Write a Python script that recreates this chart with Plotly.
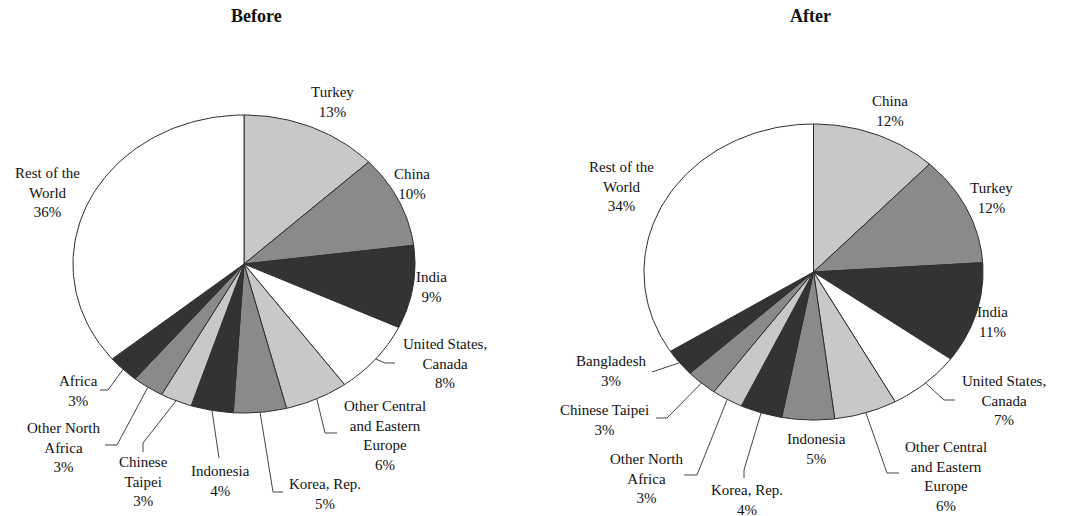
import numpy as np
import plotly.graph_objects as go

# ---- data -------------------------------------------------------------
before_labels = ["Turkey", "China", "India", "United States,<br>Canada",
                 "Other Central<br>and Eastern<br>Europe", "Korea, Rep.", "Indonesia",
                 "Chinese<br>Taipei", "Other North<br>Africa", "Africa",
                 "Rest of the<br>World"]
before_values = [13, 10, 9, 8, 6, 5, 4, 3, 3, 3, 36]

after_labels = ["China", "Turkey", "India", "United States,<br>Canada",
                "Other Central<br>and Eastern<br>Europe", "Indonesia", "Korea, Rep.",
                "Other North<br>Africa", "Chinese Taipei", "Bangladesh",
                "Rest of the<br>World"]
after_values = [12, 12, 11, 7, 6, 5, 4, 3, 3, 3, 34]

titles = ["Before", "After"]

# ---- styling ----------------------------------------------------------
LIGHT, MID, DARK, WHITE = "#c8c8c8", "#8a8a8a", "#333333", "#ffffff"
slice_colors = [LIGHT, MID, DARK, WHITE, LIGHT, MID, DARK, LIGHT, MID, DARK, WHITE]
FONT = "Liberation Serif"
W, H = 1068, 516

# pie geometry in pixel space: centre x, centre y, radius x, radius y
pies = [
    dict(cx=244.0, cy=264.0, rx=171.0, ry=149.0, title_x=256),
    dict(cx=813.5, cy=272.0, rx=169.5, ry=148.0, title_x=810),
]

# label block centres (pixels) and leader-line bends for each slice
before_text_pos = [(332, 102), (412, 184), (431, 287), (445, 363), (385, 435),
                   (325, 494), (220, 481), (143, 481), (63, 447), (78, 391),
                   (47, 192)]
before_leaders = {3: [(385, 363), (395, 363)],
                  4: [(325, 433), (337, 433)],
                  5: [(273, 492), (283, 492)],
                  6: [(219, 458)],
                  7: [(143, 443), (143, 452)],
                  8: [(117, 445), (105, 445)],
                  9: [(108, 390), (100, 390)]}

after_text_pos = [(890, 111), (991, 198), (992, 322), (1004, 400), (946, 476),
                  (816, 449), (747, 500), (646, 478), (604, 420), (611, 371),
                  (621, 186)]
after_leaders = {3: [(944, 400), (955, 400)],
                 4: [(887, 473), (899, 473)],
                 6: [(744, 470), (744, 478)],
                 7: [(697, 475), (684, 475)],
                 8: [(667, 418), (656, 418)],
                 9: [(652, 372)]}

fig = go.Figure()


def angle_at(share):
    """Clockwise from 12 o'clock, share in percent -> radians."""
    return np.deg2rad(90.0 - share * 3.6)


def add_pie(geom, labels, values, text_pos, leaders):
    total = float(sum(values))
    cum = 0.0
    annotations = []
    for i, (lab, val) in enumerate(zip(labels, values)):
        share0 = cum / total * 100
        share1 = (cum + val) / total * 100
        cum += val
        n = max(6, int(val * 3))
        ang = np.linspace(angle_at(share0), angle_at(share1), n)
        xs = np.concatenate([[geom["cx"]], geom["cx"] + geom["rx"] * np.cos(ang), [geom["cx"]]])
        ys = np.concatenate([[geom["cy"]], geom["cy"] - geom["ry"] * np.sin(ang), [geom["cy"]]])
        fig.add_trace(go.Scatter(
            x=xs, y=ys, mode="lines", fill="toself",
            fillcolor=slice_colors[i], line=dict(color="#2e2e2e", width=1),
            hoverinfo="skip", showlegend=False,
        ))

        # leader line from the slice's mid-angle on the rim
        if i in leaders:
            mid = angle_at((share0 + share1) / 2)
            sx = geom["cx"] + geom["rx"] * np.cos(mid)
            sy = geom["cy"] - geom["ry"] * np.sin(mid)
            pts = [(sx, sy)] + leaders[i]
            fig.add_trace(go.Scatter(
                x=[p[0] for p in pts], y=[p[1] for p in pts], mode="lines",
                line=dict(color="#444444", width=1),
                hoverinfo="skip", showlegend=False,
            ))

        tx, ty = text_pos[i]
        annotations.append(dict(
            x=tx, y=ty, xref="x", yref="y", showarrow=False,
            text=f"{lab}<br>{val}%", align="center",
            xanchor="center", yanchor="middle",
            font=dict(family=FONT, size=15, color="#111111"),
        ))
    return annotations


anns = []
anns += add_pie(pies[0], before_labels, before_values, before_text_pos, before_leaders)
anns += add_pie(pies[1], after_labels, after_values, after_text_pos, after_leaders)

for geom, t in zip(pies, titles):
    anns.append(dict(
        x=geom["title_x"], y=16, xref="x", yref="y", showarrow=False,
        text=f"<b>{t}</b>", xanchor="center", yanchor="middle",
        font=dict(family=FONT, size=18, color="#111111"),
    ))

fig.update_layout(
    width=W, height=H,
    margin=dict(l=0, r=0, t=0, b=0),
    paper_bgcolor="white", plot_bgcolor="white",
    xaxis=dict(range=[0, W], visible=False, fixedrange=True),
    yaxis=dict(range=[H, 0], visible=False, fixedrange=True),
    annotations=anns,
)

fig.write_html("out.html")
